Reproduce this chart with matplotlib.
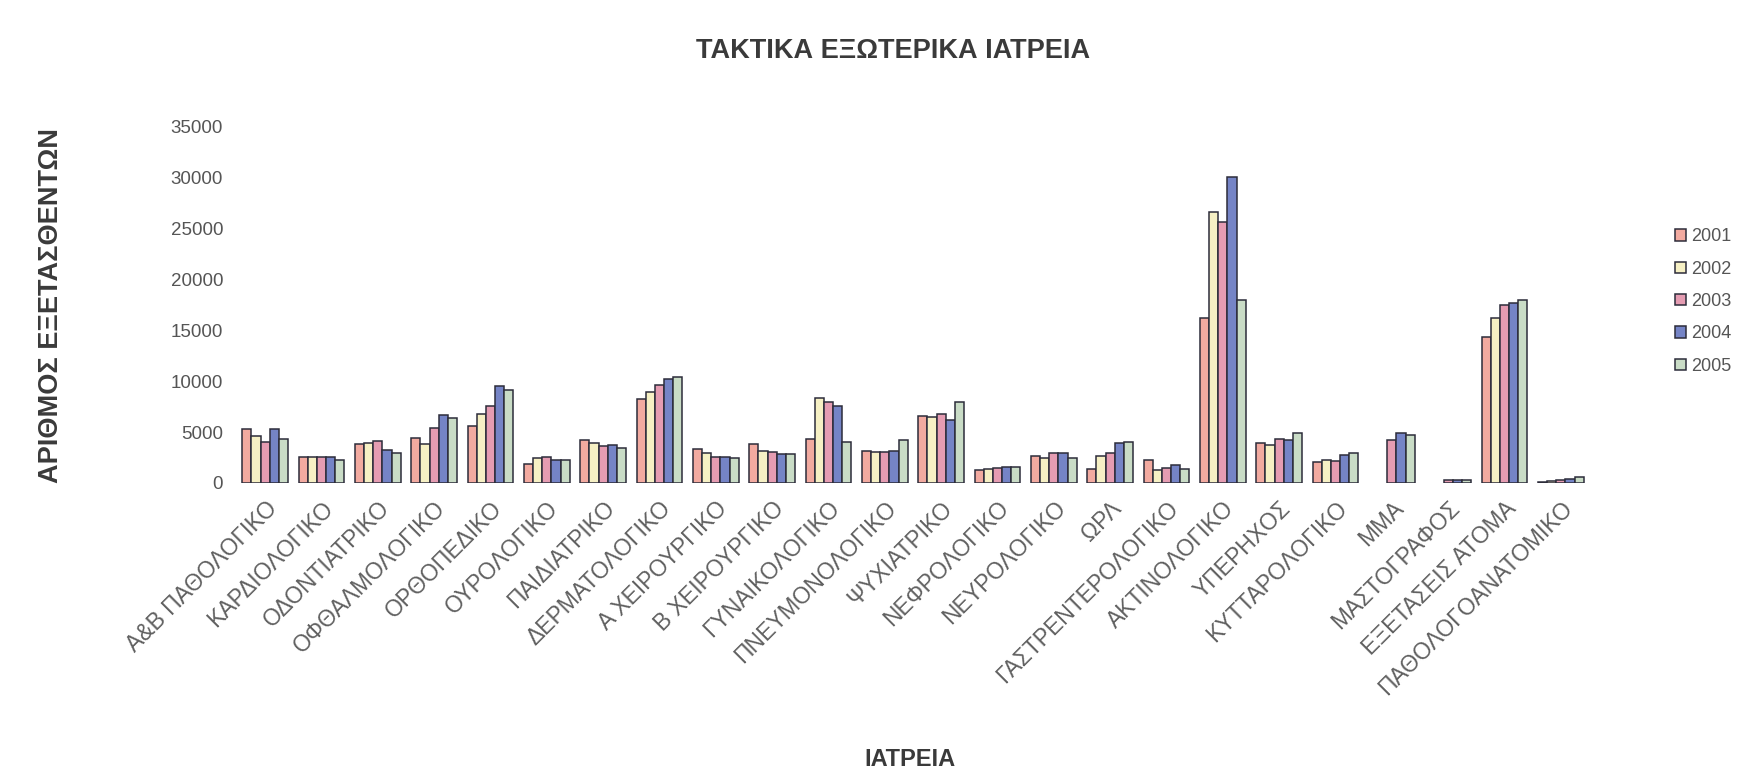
import matplotlib
matplotlib.use('Agg')
import matplotlib.pyplot as plt
import numpy as np

nan = np.nan

# outpatient clinics (categories)
clinics = ['Α&Β ΠΑΘΟΛΟΓΙΚΟ', 'ΚΑΡΔΙΟΛΟΓΙΚΟ', 'ΟΔΟΝΤΙΑΤΡΙΚΟ', 'ΟΦΘΑΛΜΟΛΟΓΙΚΟ',
           'ΟΡΘΟΠΕΔΙΚΟ', 'ΟΥΡΟΛΟΓΙΚΟ', 'ΠΑΙΔΙΑΤΡΙΚΟ', 'ΔΕΡΜΑΤΟΛΟΓΙΚΟ',
           'Α ΧΕΙΡΟΥΡΓΙΚΟ', 'Β ΧΕΙΡΟΥΡΓΙΚΟ', 'ΓΥΝΑΙΚΟΛΟΓΙΚΟ', 'ΠΝΕΥΜΟΝΟΛΟΓΙΚΟ',
           'ΨΥΧΙΑΤΡΙΚΟ', 'ΝΕΦΡΟΛΟΓΙΚΟ', 'ΝΕΥΡΟΛΟΓΙΚΟ', 'ΩΡΛ',
           'ΓΑΣΤΡΕΝΤΕΡΟΛΟΓΙΚΟ', 'ΑΚΤΙΝΟΛΟΓΙΚΟ', 'ΥΠΕΡΗΧΟΣ', 'ΚΥΤΤΑΡΟΛΟΓΙΚΟ',
           'ΜΜΑ', 'ΜΑΣΤΟΓΡΑΦΟΣ', 'ΕΞΕΤΑΣΕΙΣ ΑΤΟΜΑ', 'ΠΑΘΟΛΟΓΟΑΝΑΤΟΜΙΚΟ']

years = ['2001', '2002', '2003', '2004', '2005']

# patients examined per clinic, one list per year
y2001 = [5350, 2600, 3800, 4450, 5650, 1900, 4250, 8250, 3300, 3800, 4350, 3100,
         6600, 1300, 2650, 1350, 2300, 16200, 3950, 2100, nan, nan, 14400, 100]
y2002 = [4650, 2600, 3900, 3800, 6750, 2500, 3950, 8900, 2900, 3100, 8350, 3000,
         6500, 1350, 2500, 2650, 1300, 26600, 3750, 2250, nan, nan, 16200, 150]
y2003 = [4050, 2600, 4100, 5450, 7550, 2550, 3600, 9600, 2600, 3000, 8000, 3000,
         6750, 1450, 2900, 2950, 1450, 25700, 4300, 2200, 4250, 300, 17500, 250]
y2004 = [5350, 2600, 3250, 6700, 9550, 2300, 3750, 10200, 2600, 2850, 7600, 3100,
         6200, 1600, 2950, 3950, 1750, 30100, 4250, 2750, 4900, 300, 17700, 350]
y2005 = [4350, 2300, 2950, 6350, 9150, 2300, 3400, 10450, 2500, 2850, 4050, 4200,
         7950, 1550, 2500, 4000, 1350, 18000, 4950, 2950, 4750, 250, 17950, 550]

series = [y2001, y2002, y2003, y2004, y2005]
colors = ['#f2aaa0', '#f6f0c4', '#e59cb2', '#7584c6', '#c9dcc6']
font = 'Liberation Sans'

fig = plt.figure(figsize=(17.61, 7.77), dpi=100)
ax = fig.add_axes([0.1346, 0.3784, 0.7677, 0.4582])

x = np.arange(len(clinics))
n = len(series)
w = 0.163
for i, vals in enumerate(series):
    ax.bar(x + (i - (n - 1) / 2) * w, vals, width=w, color=colors[i],
           edgecolor='#2c2c3a', linewidth=1.1, label=years[i])

ax.set_xlim(-0.5, len(clinics) - 0.5)
ax.set_ylim(0, 35000)
ax.set_yticks(np.arange(0, 35001, 5000))
ax.set_xticks(x)
ax.set_xticklabels(clinics, rotation=45, ha='right', rotation_mode='anchor',
                   fontsize=16.5, color='#606060', family=font)
for lbl in ax.get_yticklabels():
    lbl.set_fontsize(13.5)
    lbl.set_color('#555555')
    lbl.set_family(font)
ax.tick_params(axis='both', length=0)
ax.tick_params(axis='x', pad=10)
ax.tick_params(axis='y', pad=10)
for s in ax.spines.values():
    s.set_visible(False)

# axis titles and chart title
fig.text(0.029, 0.607, 'ΑΡΙΘΜΟΣ ΕΞΕΤΑΣΘΕΝΤΩΝ', fontsize=19.5, fontweight='bold',
         color='#3a3a3a', family=font, rotation=90, ha='center', va='center')
fig.text(0.517, 0.022, 'ΙΑΤΡΕΙΑ', fontsize=17, fontweight='bold',
         color='#3a3a3a', family=font, ha='center', va='center')
fig.text(0.507, 0.935, 'ΤΑΚΤΙΚΑ ΕΞΩΤΕΡΙΚΑ ΙΑΤΡΕΙΑ', fontsize=19.5, fontweight='bold',
         color='#3a3a3a', family=font, ha='center', va='center')

leg = fig.legend(loc='center left', bbox_to_anchor=(0.942, 0.612), frameon=False,
                 handlelength=0.6, handleheight=0.6, handletextpad=0.3,
                 labelspacing=0.85, prop={'family': font, 'size': 13})
for t in leg.get_texts():
    t.set_color('#555555')

fig.savefig('out.png', dpi=100, facecolor='white')
